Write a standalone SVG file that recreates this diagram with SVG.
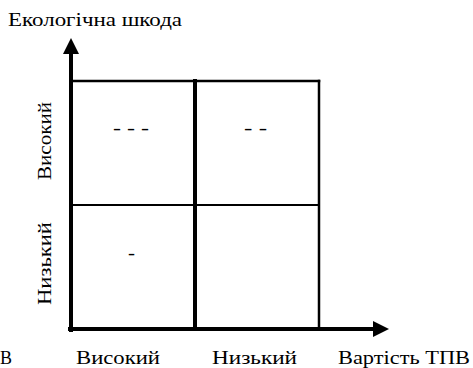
<svg xmlns="http://www.w3.org/2000/svg" width="473" height="368" viewBox="0 0 473 368">
<style>
text{font-family:"Liberation Serif","DejaVu Serif",serif;font-size:18px;fill:#000}
.ln{stroke:#000;fill:none;stroke-linecap:square}
</style>
<defs>
<marker id="ah" viewBox="0 0 10 10" refX="0" refY="5" markerWidth="4" markerHeight="4" orient="auto" markerUnits="strokeWidth">
<path d="M0,0 L10,5 L0,10 Z" fill="#000"/>
</marker>
</defs>
<rect width="473" height="368" fill="#fff"/>
<g id="connectors">
<line class="ln" x1="71" y1="330" x2="71" y2="54" stroke-width="4" marker-end="url(#ah)"/>
<line class="ln" x1="70" y1="329" x2="373" y2="329" stroke-width="4" marker-end="url(#ah)"/>
</g>
<g id="grid">
<line class="ln" x1="71" y1="81" x2="319" y2="81" stroke-width="2.5"/>
<line class="ln" x1="71" y1="205" x2="319" y2="205" stroke-width="2"/>
<line class="ln" x1="195" y1="81" x2="195" y2="328" stroke-width="4"/>
<line class="ln" x1="319" y1="81" x2="319" y2="328" stroke-width="2.5"/>
</g>
<g id="cell-high-high"><text x="131" y="134" text-anchor="middle" textLength="36" lengthAdjust="spacingAndGlyphs">- - -</text></g>
<g id="cell-high-low"><text x="255.5" y="134" text-anchor="middle" textLength="23" lengthAdjust="spacingAndGlyphs">- -</text></g>
<g id="cell-low-high"><text x="131.5" y="259" text-anchor="middle" textLength="7" lengthAdjust="spacingAndGlyphs">-</text></g>
<g id="labels">
<text x="8" y="26" textLength="174" lengthAdjust="spacingAndGlyphs">Екологічна шкода</text>
<text transform="translate(51,180) rotate(-90)" textLength="78" lengthAdjust="spacingAndGlyphs">Високий</text>
<text transform="translate(51,305) rotate(-90)" textLength="83" lengthAdjust="spacingAndGlyphs">Низький</text>
<text x="0" y="364" textLength="12" lengthAdjust="spacingAndGlyphs">В</text>
<text x="76" y="364" textLength="84" lengthAdjust="spacingAndGlyphs">Високий</text>
<text x="212" y="364" textLength="85" lengthAdjust="spacingAndGlyphs">Низький</text>
<text x="338" y="364" textLength="132" lengthAdjust="spacingAndGlyphs">Вартість ТПВ</text>
</g>
</svg>
